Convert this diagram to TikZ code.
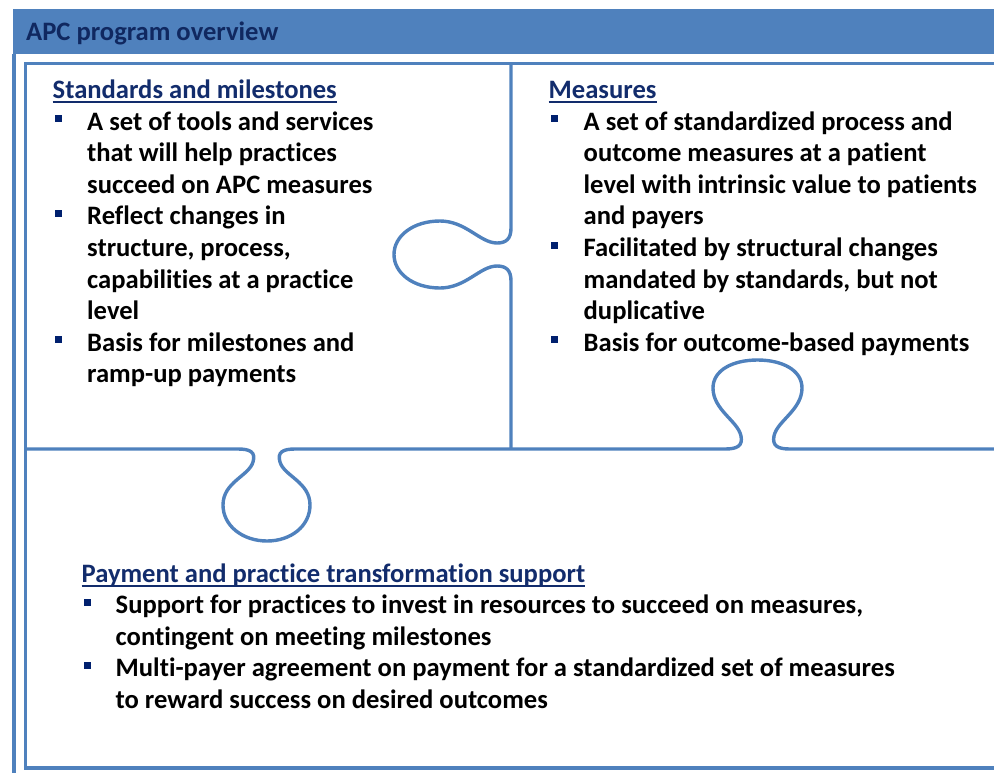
\documentclass[tikz,border=0pt]{standalone}
\usepackage{fontspec}
\setmainfont{Carlito}[Ligatures=NoCommon]
\definecolor{apcblue}{RGB}{79,129,189}
\definecolor{apcnavy}{RGB}{18,44,108}
\definecolor{headnavy}{RGB}{16,40,96}
\definecolor{bulnavy}{RGB}{0,32,110}
\tikzset{
  frameline/.style={draw=apcblue, line width=3.4pt},
  bodytext/.style={font=\fontsize{26.6}{31.7}\selectfont\bfseries, inner sep=0pt, anchor=base west, text=black},
  headtext/.style={bodytext, text=headnavy},
  ultitle/.style={bodytext, text=apcnavy},
  bulletsq/.style={fill=bulnavy, inner sep=0pt, minimum size=7pt, draw=none},
  ulline/.style={draw=apcnavy, line width=1.9pt}
}
\begin{document}
\begin{tikzpicture}[x=1pt,y=-1pt]
\useasboundingbox (0,0) rectangle (994,772);
% header and outer frame
\fill[apcblue] (12.5,9) rectangle (1010,54);
\draw[frameline] (14,54) -- (14,790);
\node[headtext] (head) at (26,40) {APC program overview};
% inner frame
\draw[frameline] (1010,63.5) -- (25.5,63.5) -- (25.5,768) -- (1010,768);
% vertical divider with left tab
\draw[frameline] (511,63.5) -- (511,228)
  .. controls (511,239) and (506,243) .. (497,243)
  .. controls (480,243) and (466,221) .. (440,221)
  .. controls (413,221) and (394,236) .. (394,254.5)
  .. controls (394,273) and (413,288) .. (440,288)
  .. controls (466,288) and (480,266) .. (497,266)
  .. controls (506,266) and (511,270) .. (511,281)
  -- (511,449);
% horizontal divider with tabs
\draw[frameline] (25.5,449) -- (238,449)
  .. controls (250,449) and (256,452) .. (253,462)
  .. controls (249,476) and (223,482) .. (223,505)
  .. controls (223,526) and (243,541) .. (267,541)
  .. controls (291,541) and (310,526) .. (310,505)
  .. controls (310,482) and (284,476) .. (280,462)
  .. controls (277,452) and (283,449) .. (295,449)
  -- (725,449)
  .. controls (737,449) and (743,446) .. (741,436)
  .. controls (738,421) and (713,410) .. (713,388)
  .. controls (713,370) and (733,360) .. (757.5,360)
  .. controls (782,360) and (802,370) .. (802,388)
  .. controls (802,410) and (777,421) .. (774,436)
  .. controls (772,446) and (778,449) .. (790,449)
  -- (1010,449);
% left panel
\node[ultitle] (lt) at (52.5,98) {Standards and milestones};
\draw[ulline] ([yshift=-4.2pt]lt.base west) -- ([yshift=-4.2pt]lt.base east);
\node[bulletsq] (lb1) at (58.5,118.7) {};
\node[bodytext] (l1) at (87,130) {A set of tools and services};
\node[bodytext] (l2) at (87,161.6) {that will help practices};
\node[bodytext] (l3) at (87,193.2) {succeed on APC measures};
\node[bulletsq] (lb2) at (58.5,213.5) {};
\node[bodytext] (l4) at (87,224.8) {Reflect changes in};
\node[bodytext] (l5) at (87,256.4) {structure, process,};
\node[bodytext] (l6) at (87,288) {capabilities at a practice};
\node[bodytext] (l7) at (87,319.6) {level};
\node[bulletsq] (lb3) at (58.5,339.9) {};
\node[bodytext] (l8) at (87,351.2) {Basis for milestones and};
\node[bodytext] (l9) at (87,382.8) {ramp-up payments};
% right panel
\node[ultitle] (rt) at (548.5,98) {Measures};
\draw[ulline] ([yshift=-4.2pt]rt.base west) -- ([yshift=-4.2pt]rt.base east);
\node[bulletsq] (rb1) at (554,118.7) {};
\node[bodytext] (r1) at (583.5,130) {A set of standardized process and};
\node[bodytext] (r2) at (583.5,161.6) {outcome measures at a patient};
\node[bodytext] (r3) at (583.5,193.2) {level with intrinsic value to patients};
\node[bodytext] (r4) at (583.5,224.8) {and payers};
\node[bulletsq] (rb2) at (554,245.1) {};
\node[bodytext] (r5) at (583.5,256.4) {Facilitated by structural changes};
\node[bodytext] (r6) at (583.5,288) {mandated by standards, but not};
\node[bodytext] (r7) at (583.5,319.6) {duplicative};
\node[bulletsq] (rb3) at (554,339.9) {};
\node[bodytext] (r8) at (583.5,351.2) {Basis for outcome-based payments};
% bottom panel
\node[ultitle] (bt) at (81.5,582) {Payment and practice transformation support};
\draw[ulline] ([yshift=-4.2pt]bt.base west) -- ([yshift=-4.2pt]bt.base east);
\node[bulletsq] (bb1) at (87,602.3) {};
\node[bodytext] (b1) at (115.5,613.6) {Support for practices to invest in resources to succeed on measures,};
\node[bodytext] (b2) at (115.5,645.2) {contingent on meeting milestones};
\node[bulletsq] (bb2) at (87,665.5) {};
\node[bodytext] (b3) at (115.5,676.8) {Multi-payer agreement on payment for a standardized set of measures};
\node[bodytext] (b4) at (115.5,708.4) {to reward success on desired outcomes};
\end{tikzpicture}
\end{document}
